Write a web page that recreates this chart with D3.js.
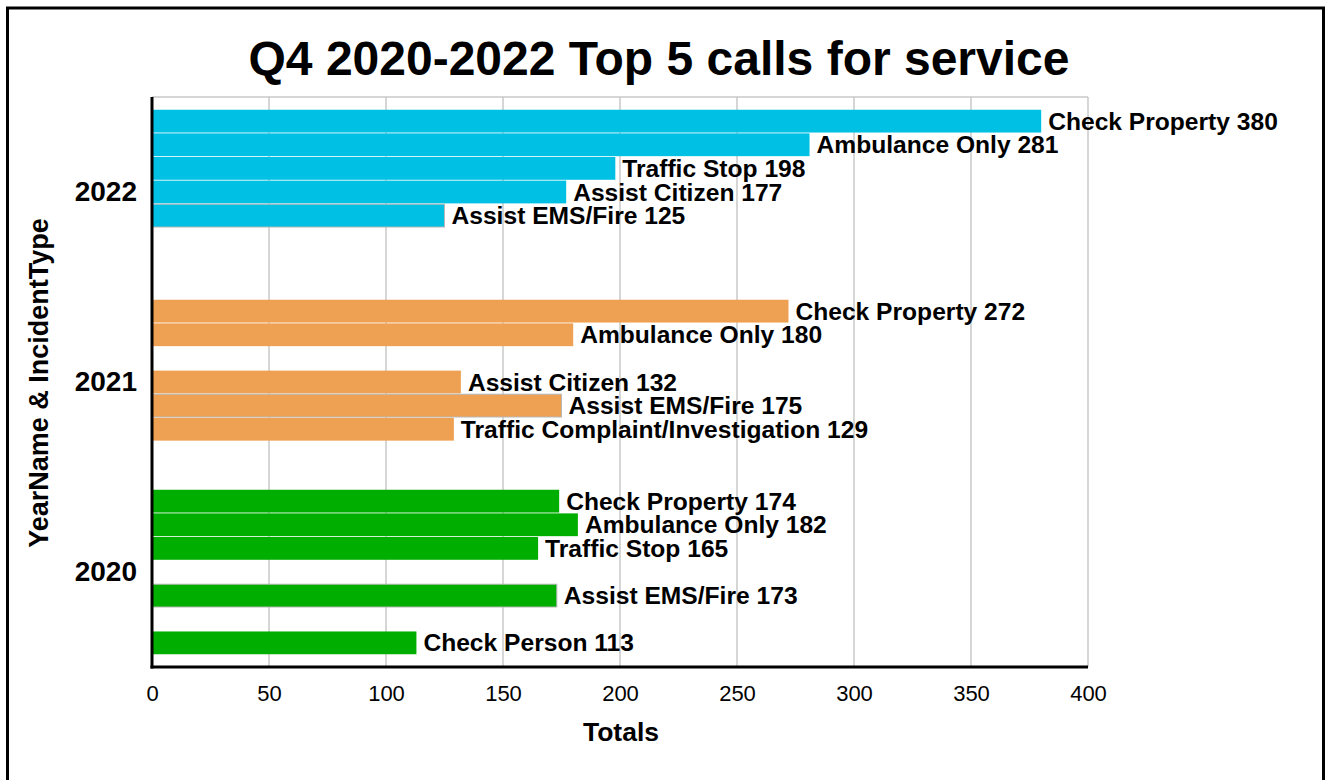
<!DOCTYPE html>
<html>
<head>
<meta charset="utf-8">
<script src="https://cdn.jsdelivr.net/npm/d3@7"></script>
<style>
  body { margin: 0; background: #fff; }
  svg { display: block; font-family: Arial, "Liberation Sans", sans-serif; }
</style>
</head>
<body>
<div class="chart"></div>
<script>
// data
const years = ["2022", "2021", "2020"];
const incidentTypes = ["Check Property", "Ambulance Only", "Traffic Stop", "Assist Citizen",
  "Assist EMS/Fire", "Traffic Complaint/Investigation", "Check Person"];
const totals2022 = [380, 281, 198, 177, 125, null, null];
const totals2021 = [272, 180, null, 132, 175, 129, null];
const totals2020 = [174, 182, 165, null, 173, null, 113];
const xTicks = [0, 50, 100, 150, 200, 250, 300, 350, 400];
const yearColors = { "2022": "#00c0e3", "2021": "#eea152", "2020": "#00ae00" };

const totalsByYear = { "2022": totals2022, "2021": totals2021, "2020": totals2020 };
const rows = [];
years.forEach(y => {
  totalsByYear[y].forEach((v, i) => {
    if (v != null) rows.push({ year: y, type: incidentTypes[i], total: v });
  });
});

const W = 1327, H = 780;
const margin = { top: 97, right: 239, bottom: 113, left: 152 };
const width = W - margin.left - margin.right,
      height = H - margin.top - margin.bottom;

const svg = d3.select(".chart").append("svg")
  .attr("width", W)
  .attr("height", H);

// outer frame
svg.append("rect")
  .attr("x", 7.5).attr("y", 8)
  .attr("width", 1316).attr("height", 790)
  .attr("fill", "none")
  .attr("stroke", "#000")
  .attr("stroke-width", 3);

const g = svg.append("g")
  .attr("transform", `translate(${margin.left},${margin.top})`);

const xScale = d3.scaleLinear().domain([0, 400]).range([0, width]);
const yScale = d3.scaleBand().domain(years).range([0, height]);
const groupPad = 12.75;
const ySub = d3.scaleBand()
  .domain(incidentTypes)
  .range([groupPad, yScale.bandwidth() - groupPad])
  .paddingInner(0.035);

// gridlines
g.append("g")
  .selectAll("line")
  .data(xTicks.slice(1))
  .join("line")
  .attr("x1", d => xScale(d)).attr("x2", d => xScale(d))
  .attr("y1", 0).attr("y2", height)
  .attr("stroke", "#c8c8c8")
  .attr("stroke-width", 1.5);

g.append("line")
  .attr("x1", 0).attr("x2", width)
  .attr("y1", 0).attr("y2", 0)
  .attr("stroke", "#c8c8c8")
  .attr("stroke-width", 1.5);

// bars
const bar = g.append("g")
  .selectAll("g")
  .data(rows)
  .join("g")
  .attr("transform", d => `translate(0,${yScale(d.year) + ySub(d.type)})`);

bar.append("rect")
  .attr("x", 0)
  .attr("y", 0)
  .attr("width", d => xScale(d.total))
  .attr("height", ySub.bandwidth())
  .attr("fill", d => yearColors[d.year])
  .attr("stroke", d => d.type === "Assist EMS/Fire" ? "#b8b8b8" : "none")
  .attr("stroke-width", 1);

bar.append("text")
  .attr("x", d => xScale(d.total) + 7)
  .attr("y", ySub.bandwidth() / 2)
  .attr("dy", "0.35em")
  .attr("font-size", 24.6)
  .attr("font-weight", "bold")
  .attr("fill", "#000")
  .text(d => `${d.type} ${d.total}`);

// axes
const xAxis = d3.axisBottom(xScale)
  .tickValues(xTicks)
  .tickSize(0)
  .tickPadding(18);

g.append("g")
  .attr("class", "axis x-axis")
  .attr("transform", `translate(0,${height})`)
  .call(xAxis)
  .call(a => a.select(".domain").remove())
  .selectAll("text")
  .attr("font-size", 22)
  .attr("font-family", "Arial, 'Liberation Sans', sans-serif")
  .attr("fill", "#000");

const yAxis = d3.axisLeft(yScale)
  .tickSize(0)
  .tickPadding(15);

g.append("g")
  .attr("class", "axis y-axis")
  .call(yAxis)
  .call(a => a.select(".domain").remove())
  .selectAll("text")
  .attr("font-size", 28)
  .attr("font-weight", "bold")
  .attr("font-family", "Arial, 'Liberation Sans', sans-serif")
  .attr("fill", "#000");

g.append("line")
  .attr("x1", 0).attr("x2", 0)
  .attr("y1", 0).attr("y2", height + 1.5)
  .attr("stroke", "#000").attr("stroke-width", 3);

g.append("line")
  .attr("x1", -1.5).attr("x2", width)
  .attr("y1", height).attr("y2", height)
  .attr("stroke", "#000").attr("stroke-width", 3);

// titles
svg.append("text")
  .attr("x", 659).attr("y", 75)
  .attr("text-anchor", "middle")
  .attr("font-size", 48)
  .attr("font-weight", "bold")
  .text("Q4 2020-2022 Top 5 calls for service");

svg.append("text")
  .attr("x", margin.left + width / 2 + 1).attr("y", 741)
  .attr("text-anchor", "middle")
  .attr("font-size", 26.5)
  .attr("font-weight", "bold")
  .text("Totals");

svg.append("text")
  .attr("transform", "translate(48,383) rotate(-90)")
  .attr("text-anchor", "middle")
  .attr("font-size", 27)
  .attr("font-weight", "bold")
  .text("YearName & IncidentType");
</script>
</body>
</html>
